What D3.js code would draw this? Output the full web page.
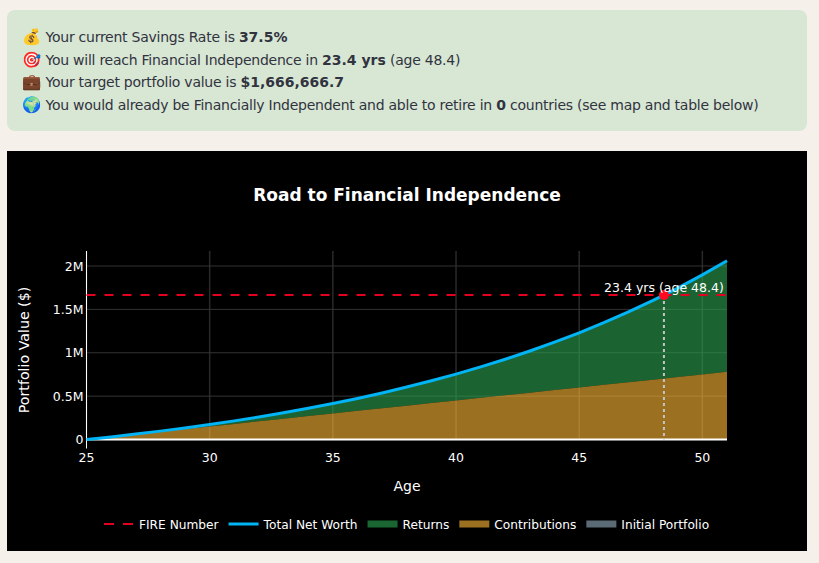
<!DOCTYPE html>
<html>
<head>
<meta charset="utf-8">
<script src="https://cdnjs.cloudflare.com/ajax/libs/d3/7.8.5/d3.min.js"></script>
<style>
  html, body { margin: 0; padding: 0; background: #f5f0ea; width: 819px; height: 563px; overflow: hidden; }
  #box { position: absolute; left: 7px; top: 10px; width: 800px; height: 121px; background: #d8e6d4; border-radius: 8px; }
  #box div { position: absolute; left: 0; white-space: nowrap; font: 14px "DejaVu Sans", sans-serif; color: #31333f; }
  #box .ico { position: absolute; left: 13px; width: 22px; text-align: center; font-size: 15.5px; line-height: 17px; }
  #box .txt { position: absolute; left: 38.5px; letter-spacing: -0.25px; }
  #box .txt b { letter-spacing: 0; }
  #chart { position: absolute; left: 0; top: 0; }
  text { font-family: "DejaVu Sans", sans-serif; fill: #fff; }
</style>
</head>
<body>
<div id="box"></div>
<svg id="chart" width="819" height="563"></svg>
<script>
var ages = [25,26,27,28,29,30,31,32,33,34,35,36,37,38,39,40,41,42,43,44,45,46,47,48,49,50,51];
var contributions = [0,30000,60000,90000,120000,150000,180000,210000,240000,270000,300000,330000,360000,390000,420000,450000,480000,510000,540000,570000,600000,630000,660000,690000,720000,750000,780000];
var netWorth = [0,30000,62100,96500,133200,172500,214600,259600,307700,359200,414500,473500,536700,604300,676600,754000,836800,925400,1020200,1121600,1230000,1346100,1470400,1603300,1745500,1897700,2060500];
var initialPortfolio = [0,0,0,0,0,0,0,0,0,0,0,0,0,0,0,0,0,0,0,0,0,0,0,0,0,0,0];
var fireNumber = 1666666.7;
var fireAge = 48.44;   // label shows it rounded

var xTicks = [25,30,35,40,45,50];
var yTicks = [0,500000,1000000,1500000,2000000];
var yTickLabels = ['0','0.5M','1M','1.5M','2M'];

var infoLines = [
  ['💰', 'Your current Savings Rate is <b>37.5%</b>'],
  ['🎯', 'You will reach Financial Independence in <b>23.4 yrs</b> (age 48.4)'],
  ['💼', 'Your target portfolio value is <b>$1,666,666.7</b>'],
  ['🌍', 'You would already be Financially Independent and able to retire in <b>0</b> countries (see map and table below)']
];
var lineTops = [19, 42, 64, 87];

var legendItems = [
  {name: 'FIRE Number', kind: 'dash', color: '#e6001f'},
  {name: 'Total Net Worth', kind: 'line', color: '#00b4f5'},
  {name: 'Returns', kind: 'area', color: '#1a6632'},
  {name: 'Contributions', kind: 'area', color: '#9b7021'},
  {name: 'Initial Portfolio', kind: 'area', color: '#5a6b76'}
];

// info box
var rows = d3.select('#box').selectAll('.row').data(infoLines).enter().append('div')
  .attr('class', 'row')
  .style('top', function(d, i) { return lineTops[i] + 'px'; });
rows.append('div').attr('class', 'ico').text(function(d) { return d[0]; });
rows.append('div').attr('class', 'txt').html(function(d) { return d[1]; });

// chart panel
var svg = d3.select('#chart');
svg.append('rect').attr('x', 7).attr('y', 151).attr('width', 800).attr('height', 400).attr('fill', '#000');

var plot = {left: 86.5, right: 727, top: 251, bottom: 439.5};
var x = d3.scaleLinear().domain([25, 51]).range([plot.left, plot.right]);
var y = d3.scaleLinear().domain([0, 2173000]).range([plot.bottom, plot.top]);

svg.append('text').attr('x', 407).attr('y', 201).attr('text-anchor', 'middle')
  .style('font-size', '17px').style('font-weight', 'bold').text('Road to Financial Independence');

// grid
svg.append('g').selectAll('line').data(xTicks).enter().append('line')
  .attr('x1', x).attr('x2', x).attr('y1', plot.top).attr('y2', plot.bottom)
  .attr('stroke', '#2a2a2a').attr('stroke-width', 1.5);
svg.append('g').selectAll('line').data(yTicks.slice(1)).enter().append('line')
  .attr('x1', plot.left).attr('x2', plot.right).attr('y1', y).attr('y2', y)
  .attr('stroke', '#333').attr('stroke-width', 1);

// stacked fills
var returnsArea = d3.area()
  .x(function(d, i) { return x(ages[i]); })
  .y0(function(d, i) { return y(contributions[i]); })
  .y1(function(d) { return y(d); });
var contribArea = d3.area()
  .x(function(d, i) { return x(ages[i]); })
  .y0(function(d, i) { return y(initialPortfolio[i]); })
  .y1(function(d) { return y(d); });
svg.append('path').datum(netWorth).attr('d', returnsArea).attr('fill', 'rgb(44,161,81)').attr('fill-opacity', 0.62);
svg.append('path').datum(contributions).attr('d', contribArea).attr('fill', 'rgb(250,181,53)').attr('fill-opacity', 0.62);

// zero line and left axis
svg.append('line').attr('x1', plot.left).attr('x2', plot.right).attr('y1', y(0)).attr('y2', y(0))
  .attr('stroke', '#fff').attr('stroke-width', 2);
svg.append('line').attr('x1', plot.left).attr('x2', plot.left).attr('y1', plot.top).attr('y2', plot.bottom + 9)
  .attr('stroke', '#fff').attr('stroke-width', 1);

// FIRE number
svg.append('line').attr('x1', plot.left).attr('x2', plot.right).attr('y1', y(fireNumber)).attr('y2', y(fireNumber))
  .attr('stroke', '#e6001f').attr('stroke-width', 2).attr('stroke-dasharray', '9,9');

// net worth
var valueline = d3.line()
  .x(function(d, i) { return x(ages[i]); })
  .y(function(d) { return y(d); });
svg.append('path').datum(netWorth).attr('d', valueline).attr('fill', 'none')
  .attr('stroke', '#00b4f5').attr('stroke-width', 3);

// FIRE age marker
svg.append('line').attr('x1', x(fireAge)).attr('x2', x(fireAge)).attr('y1', y(fireNumber)).attr('y2', y(0))
  .attr('stroke', '#c4c4c4').attr('stroke-width', 2).attr('stroke-dasharray', '3,3');
svg.append('circle').attr('cx', x(fireAge)).attr('cy', y(fireNumber)).attr('r', 5).attr('fill', '#ff0a22');
svg.append('text').attr('x', x(fireAge)).attr('y', y(fireNumber) - 3).attr('text-anchor', 'middle')
  .style('font-size', '12.5px').text('23.4 yrs (age 48.4)');

// tick labels
svg.append('g').selectAll('text').data(xTicks).enter().append('text')
  .attr('x', x).attr('y', 462).attr('text-anchor', 'middle').style('font-size', '12.5px')
  .text(function(d) { return d; });
svg.append('g').selectAll('text').data(yTicks).enter().append('text')
  .attr('x', 83.5).attr('y', function(d) { return y(d) + 4.5; }).attr('text-anchor', 'end').style('font-size', '12.5px')
  .text(function(d, i) { return yTickLabels[i]; });

// axis titles
svg.append('text').attr('x', 407).attr('y', 491).attr('text-anchor', 'middle').style('font-size', '14px').text('Age');
svg.append('text').attr('transform', 'translate(29,350) rotate(-90)').attr('text-anchor', 'middle')
  .style('font-size', '14.2px').text('Portfolio Value ($)');

// legend, laid out left to right from the measured text widths
var legendX = 104;
legendItems.forEach(function(item) {
  var g = svg.append('g').attr('transform', 'translate(' + legendX + ',524)');
  if (item.kind == 'area') {
    g.append('rect').attr('x', 0).attr('y', -3.5).attr('width', 30).attr('height', 7).attr('fill', item.color);
  } else {
    g.append('line').attr('x1', 0).attr('x2', 30).attr('y1', 0).attr('y2', 0)
      .attr('stroke', item.color).attr('stroke-width', item.kind == 'dash' ? 2 : 3)
      .attr('stroke-dasharray', item.kind == 'dash' ? '10,9' : null);
  }
  var t = g.append('text').attr('x', 35).attr('y', 4.5).style('font-size', '12.2px').text(item.name);
  legendX += 35 + t.node().getComputedTextLength() + 10;
});
</script>
</body>
</html>
